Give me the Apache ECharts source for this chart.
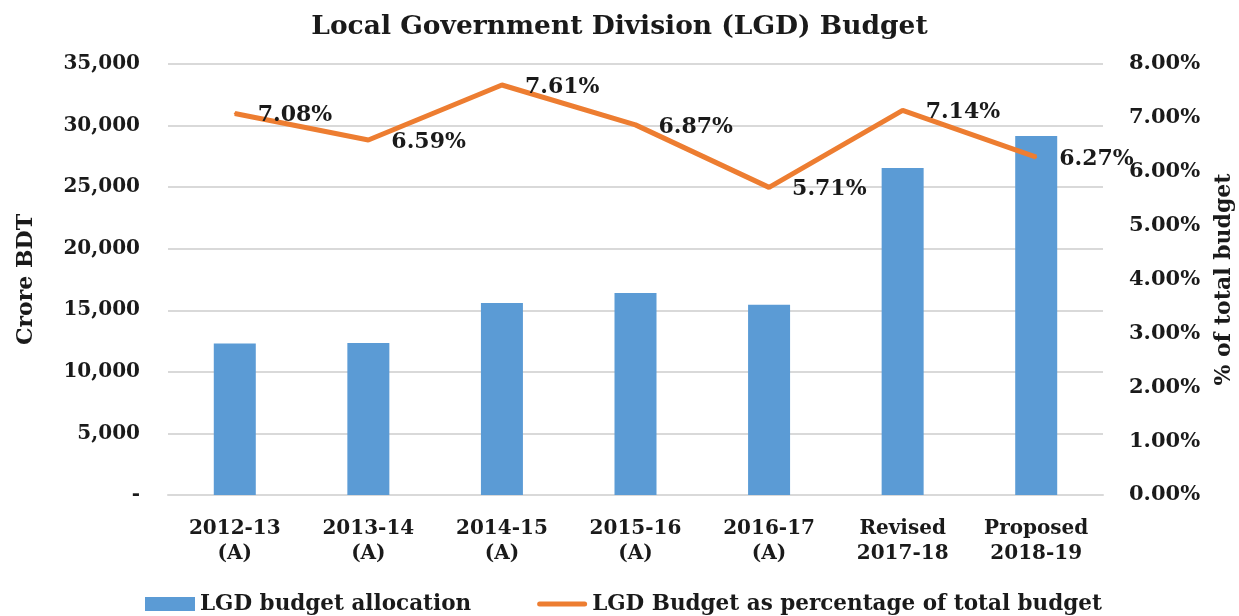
<!DOCTYPE html>
<html>
<head>
<meta charset="utf-8">
<script src="https://cdn.jsdelivr.net/npm/echarts@6/dist/echarts.min.js"></script>
<style>
html,body{margin:0;padding:0;background:#fff;}
#chart{width:1239px;height:616px;}
</style>
</head>
<body>
<div id="chart"></div>
<script>
var categories = ['2012-13\n(A)', '2013-14\n(A)', '2014-15\n(A)', '2015-16\n(A)', '2016-17\n(A)', 'Revised\n2017-18', 'Proposed\n2018-19'];
var allocation = [12300, 12350, 15600, 16400, 15450, 26550, 29150];
var percentOfTotal = [7.08, 6.59, 7.61, 6.87, 5.71, 7.14, 6.27];
var leftTicks = { min: 0, max: 35000, interval: 5000 };
var rightTicks = { min: 0, max: 8, interval: 1 };
var seriesNames = ['LGD budget allocation', 'LGD Budget as percentage of total budget'];

var FONT = '"DejaVu Serif", Georgia, serif';
var chart = echarts.init(document.getElementById('chart'), null, { renderer: 'canvas' });
chart.setOption({
  backgroundColor: '#ffffff',
  textStyle: { fontFamily: FONT, color: '#1a1a1a', fontWeight: 'bold' },
  title: {
    text: 'Local Government Division (LGD) Budget',
    left: 'center',
    top: 9,
    textStyle: { fontFamily: FONT, fontSize: 26.5, fontWeight: 'bold', color: '#1a1a1a' }
  },
  grid: { left: 168, right: 136, top: 64, bottom: 121, containLabel: false, outerBoundsMode: 'none' },
  legend: {
    top: 588,
    left: 140,
    itemGap: 66,
    itemWidth: 50,
    itemHeight: 14,
    textStyle: { fontFamily: FONT, fontSize: 21.5, fontWeight: 'bold', color: '#1a1a1a' },
    data: [
      { name: seriesNames[0], icon: 'rect' },
      { name: seriesNames[1], icon: 'path://M2.5,0H47.5A2.5,2.5,0,0,1,47.5,5H2.5A2.5,2.5,0,0,1,2.5,0Z' }
    ]
  },
  xAxis: {
    type: 'category',
    data: categories,
    axisLine: { show: true, lineStyle: { color: '#d9d9d9', width: 2 } },
    axisTick: { show: false },
    axisLabel: { fontFamily: FONT, fontSize: 20, fontWeight: 'bold', color: '#1a1a1a', lineHeight: 25, margin: 21, interval: 0 }
  },
  yAxis: [
    {
      type: 'value',
      min: leftTicks.min, max: leftTicks.max, interval: leftTicks.interval,
      name: 'Crore BDT',
      nameLocation: 'middle',
      nameRotate: 90,
      nameGap: 131,
      nameTextStyle: { fontFamily: FONT, fontSize: 22, fontWeight: 'bold', color: '#1a1a1a' },
      axisLine: { show: false },
      axisTick: { show: false },
      splitLine: { show: true, lineStyle: { color: '#d9d9d9', width: 2 } },
      axisLabel: {
        fontFamily: FONT, fontSize: 20, fontWeight: 'bold', color: '#1a1a1a', margin: 28,
        formatter: function (v) { return v === 0 ? '-' : v.toLocaleString('en-US'); }
      }
    },
    {
      type: 'value',
      min: rightTicks.min, max: rightTicks.max, interval: rightTicks.interval,
      name: '% of total budget',
      nameLocation: 'middle',
      nameRotate: 90,
      nameGap: 110,
      nameTextStyle: { fontFamily: FONT, fontSize: 22, fontWeight: 'bold', color: '#1a1a1a' },
      axisLine: { show: false },
      axisTick: { show: false },
      splitLine: { show: false },
      axisLabel: {
        fontFamily: FONT, fontSize: 21, fontWeight: 'bold', color: '#1a1a1a', margin: 26,
        formatter: function (v) { return v.toFixed(2) + '%'; }
      }
    }
  ],
  series: [
    {
      name: seriesNames[0],
      type: 'bar',
      yAxisIndex: 0,
      data: allocation,
      barWidth: 42,
      itemStyle: { color: '#5b9bd5' }
    },
    {
      name: seriesNames[1],
      type: 'line',
      yAxisIndex: 1,
      data: percentOfTotal,
      symbol: 'circle',
      symbolSize: 2,
      itemStyle: { color: '#ed7d31' },
      lineStyle: { color: '#ed7d31', width: 5 },
      label: {
        show: true,
        position: 'right',
        distance: 22,
        offset: [0, 2],
        fontFamily: FONT, fontSize: 22, fontWeight: 'bold', color: '#1a1a1a',
        formatter: function (p) { return p.value.toFixed(2) + '%'; }
      },
      z: 3
    }
  ]
});
</script>
</body>
</html>
